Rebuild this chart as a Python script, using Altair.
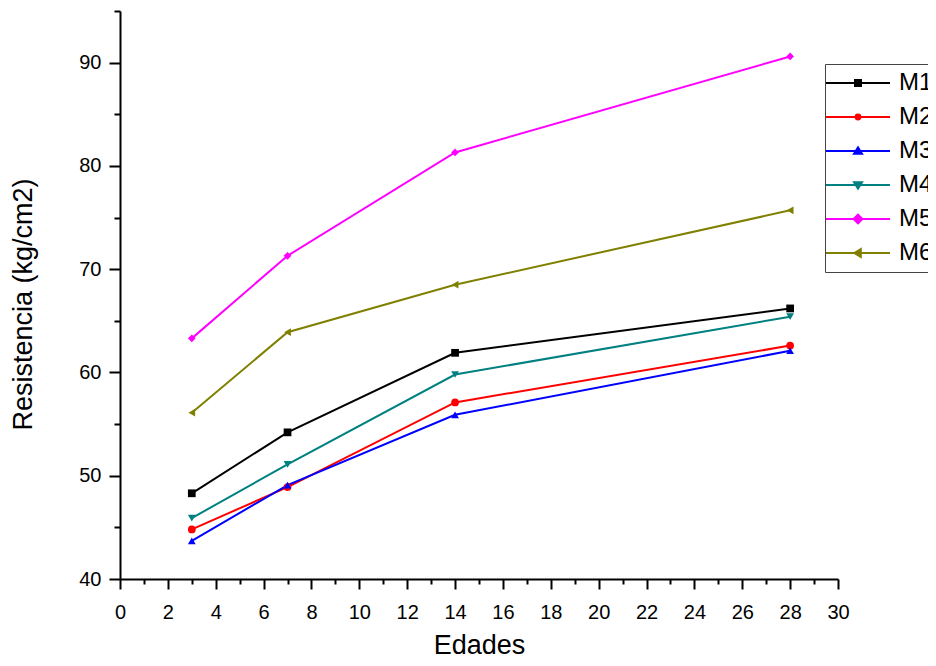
import altair as alt
import pandas as pd

FONT = "Liberation Sans"

edades = [3, 7, 14, 28]
series = ["M1", "M2", "M3", "M4", "M5", "M6"]
m1 = [48.3, 54.2, 61.9, 66.2]
m2 = [44.8, 48.9, 57.1, 62.6]
m3 = [43.7, 49.1, 55.9, 62.1]
m4 = [45.9, 51.1, 59.8, 65.4]
m5 = [63.3, 71.3, 81.3, 90.6]
m6 = [56.1, 63.9, 68.5, 75.7]

colors = ["#000000", "#FF0000", "#0000FF", "#008080", "#FF00FF", "#808000"]
shapes = ["square", "circle", "triangle-up", "triangle-down", "diamond", "triangle-left"]
# legend glyphs: a line with the series marker in its middle (unit = 8 px)
legend_paths = [
    "M-2.25,0H5.75M1.375,-0.375H2.125V0.375H1.375Z",
    "M-2.25,0H5.75M1.45,0A0.3,0.3,0,1,1,2.05,0A0.3,0.3,0,1,1,1.45,0Z",
    "M-2.25,0H5.75M1.25,0.35L1.75,-0.45L2.25,0.35Z",
    "M-2.25,0H5.75M1.25,-0.35L1.75,0.45L2.25,-0.35Z",
    "M-2.25,0H5.75M1.2,0L1.75,-0.55L2.3,0L1.75,0.55Z",
    "M-2.25,0H5.75M2.1,-0.5L1.3,0L2.1,0.5Z",
]

rows = []
for name, vals in zip(series, [m1, m2, m3, m4, m5, m6]):
    for e, v in zip(edades, vals):
        rows.append({"serie": name, "edad": e, "res": v})
df = pd.DataFrame(rows)

legend_df = pd.DataFrame({"serie": series, "dx": [-100] * len(series), "dy": [50] * len(series)})

x_scale = alt.Scale(domain=[0, 30], nice=False, zero=False)
y_scale = alt.Scale(domain=[40, 95], nice=False, zero=False)

x_axis = alt.Axis(
    title="Edades", values=list(range(0, 31)),
    labelExpr="datum.value % 2 == 0 ? datum.label : ''",
    tickSize={"condition": {"test": "datum.value % 2 == 0", "value": 10}, "value": 5},
    tickWidth=2, tickColor="black", domainWidth=2, domainColor="black",
    labelFont=FONT, labelFontSize=20, labelColor="black", labelPadding=13,
    labelOverlap=False, labelFlush=False, grid=False,
    titleFont=FONT, titleFontSize=27, titleFontWeight="normal", titleColor="black",
    titleBaseline="alphabetic", titleY=74,
)
y_axis = alt.Axis(
    title="Resistencia (kg/cm2)", values=list(range(40, 96, 5)),
    labelExpr="datum.value % 10 == 0 ? datum.label : ''",
    tickSize={"condition": {"test": "datum.value % 10 == 0", "value": 11}, "value": 6},
    tickWidth=2, tickColor="black", domainWidth=2, domainColor="black",
    labelFont=FONT, labelFontSize=20, labelColor="black", labelPadding=8,
    labelOverlap=False, labelFlush=False, grid=False,
    titleFont=FONT, titleFontSize=27, titleFontWeight="normal", titleColor="black",
    titleBaseline="alphabetic", titleAlign="center", titleAngle=270, titleX=-89, titleY=293,
)

X = alt.X("edad:Q", scale=x_scale, axis=x_axis)
Y = alt.Y("res:Q", scale=y_scale, axis=y_axis)
color_scale = alt.Scale(domain=series, range=colors)

lines = alt.Chart(df).mark_line(strokeWidth=2).encode(
    x=X, y=Y, color=alt.Color("serie:N", scale=color_scale, legend=None)
)
points = alt.Chart(df).mark_point(filled=True, opacity=1, size=60).encode(
    x=X, y=Y,
    color=alt.Color("serie:N", scale=color_scale, legend=None),
    shape=alt.Shape("serie:N", scale=alt.Scale(domain=series, range=shapes), legend=None),
)

leg = alt.Legend(
    title=None, orient="none", legendX=705, legendY=53,
    strokeColor="#444444", fillColor="white", padding=7,
    labelFont=FONT, labelFontSize=24, labelColor="black", labelOffset=43, labelLimit=200,
    symbolSize=256, symbolStrokeWidth=2, rowPadding=10,
)
legend_layer = alt.Chart(legend_df).mark_point(filled=True, opacity=1, clip=True, strokeWidth=2).encode(
    x=alt.X("dx:Q", scale=x_scale, axis=x_axis),
    y=alt.Y("dy:Q", scale=y_scale, axis=y_axis),
    fill=alt.Fill("serie:N", scale=alt.Scale(domain=series, range=colors), legend=leg),
    stroke=alt.Stroke("serie:N", scale=alt.Scale(domain=series, range=colors), legend=leg),
    shape=alt.Shape("serie:N", scale=alt.Scale(domain=series, range=legend_paths), legend=leg),
)

chart = alt.layer(lines, points, legend_layer).resolve_scale(
    shape="independent", fill="independent", stroke="independent"
).properties(
    width=718, height=568,
    autosize=alt.AutoSizeParams(type="none"),
    padding={"left": 112, "top": 3, "right": 90, "bottom": 79},
).configure_view(stroke=None)

chart.save("out.html", embed_options={"renderer": "svg", "actions": False})
